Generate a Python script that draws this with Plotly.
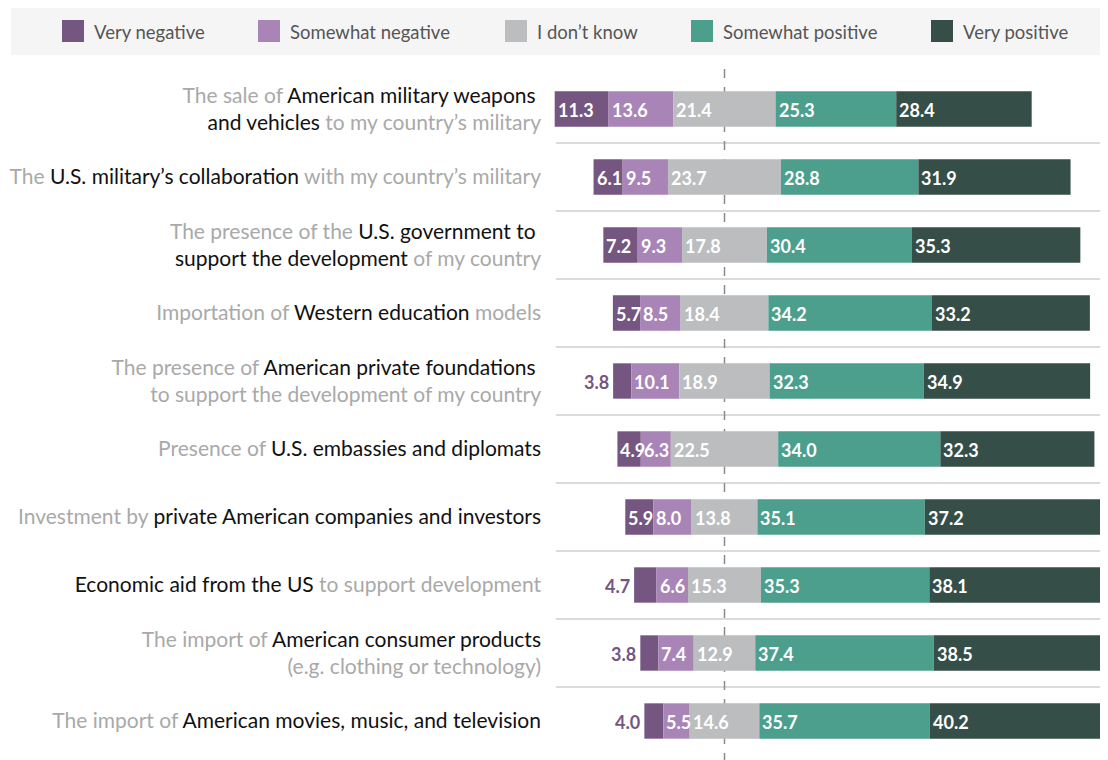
import plotly.graph_objects as go

# ---- data -------------------------------------------------------------
GRAY = "#a9a9a9"


def g(txt):
    return f"<span style='color:{GRAY}'>{txt}</span>"


items = [
    g("The sale of ") + "American military weapons&nbsp;<br>and vehicles" + g(" to my country’s military"),
    g("The ") + "U.S. military’s collaboration" + g(" with my country’s military"),
    g("The presence of the ") + "U.S. government to&nbsp;<br>support the development" + g(" of my country"),
    g("Importation of ") + "Western education" + g(" models"),
    g("The presence of ") + "American private foundations&nbsp;<br>" + g("to support the development of my country"),
    g("Presence of ") + "U.S. embassies and diplomats",
    g("Investment by ") + "private American companies and investors",
    "Economic aid from the US" + g(" to support development"),
    g("The import of ") + "American consumer products<br>" + g("(e.g. clothing or technology)"),
    g("The import of ") + "American movies, music, and television",
]

series_names = ["Very negative", "Somewhat negative", "I don’t know",
                "Somewhat positive", "Very positive"]
very_negative = [11.3, 6.1, 7.2, 5.7, 3.8, 4.9, 5.9, 4.7, 3.8, 4.0]
somewhat_negative = [13.6, 9.5, 9.3, 8.5, 10.1, 6.3, 8.0, 6.6, 7.4, 5.5]
dont_know = [21.4, 23.7, 17.8, 18.4, 18.9, 22.5, 13.8, 15.3, 12.9, 14.6]
somewhat_positive = [25.3, 28.8, 30.4, 34.2, 32.3, 34.0, 35.1, 35.3, 37.4, 35.7]
very_positive = [28.4, 31.9, 35.3, 33.2, 34.9, 32.3, 37.2, 38.1, 38.5, 40.2]

colors = ["#745681", "#a985b7", "#bcbdbf", "#4c9f8d", "#354e47"]

# ---- geometry (page pixels; the page body has an 8px margin) -----------
OFF = 8
W, H = 1108 - OFF, 760 - OFF
M_L, M_R, M_T, M_B = 553 - OFF, 0, 75 - OFF, 5
PX_PER_UNIT = 4.77
CENTER_PX = 724.5 - OFF


def paper_x(px):
    return (px - OFF - M_L) / (W - M_L - M_R)


def paper_y(py):
    return (H - M_B - (py - OFF)) / (H - M_T - M_B)


x_range = [-(CENTER_PX - M_L) / PX_PER_UNIT, (W - M_R - CENTER_PX) / PX_PER_UNIT]

all_series = [very_negative, somewhat_negative, dont_know, somewhat_positive, very_positive]

# bars are centred on the middle of the "I don't know" segment
start = [-(a + b + c / 2) for a, b, c in zip(very_negative, somewhat_negative, dont_know)]

fig = go.Figure()
base = list(start)
value_labels = []
for name, vals, col in zip(series_names, all_series, colors):
    fig.add_trace(go.Bar(
        y=items, x=vals, base=base, orientation="h", name=name,
        marker=dict(color=col, line=dict(width=0)),
        width=0.52, showlegend=False,
        hovertemplate=name + ": %{x:.1f}<extra></extra>",
    ))
    for i, v in enumerate(vals):
        if name == "Very negative" and v < 4.8:
            # too narrow: label sits left of the bar, in the series colour
            value_labels.append(dict(
                x=base[i], y=items[i], xref="x", yref="y", text=f"<b>{v:.1f}</b>",
                showarrow=False, xanchor="right", xshift=-2, yshift=-1,
                font=dict(family="Lato", size=18, color=colors[0])))
        else:
            value_labels.append(dict(
                x=base[i], y=items[i], xref="x", yref="y", text=f"<b>{v:.1f}</b>",
                showarrow=False, xanchor="left", xshift=1, yshift=-1,
                font=dict(family="Lato", size=18, color="white")))
    base = [b + v for b, v in zip(base, vals)]

annotations = list(value_labels)
shapes = []
# row separators
for i in range(len(items) - 1):
    shapes.append(dict(type="line", xref="paper", yref="y", x0=paper_x(556), x1=1,
                       y0=i + 0.5, y1=i + 0.5, line=dict(color="#cfcfcf", width=1.5),
                       layer="below"))
# centre dashed line
shapes.append(dict(type="line", xref="x", yref="paper", x0=0, x1=0,
                   y0=paper_y(762), y1=paper_y(62),
                   line=dict(color="#8a8a8a", width=1.5, dash="dash"), layer="below"))

# legend band
shapes.append(dict(type="rect", xref="paper", yref="paper",
                   x0=paper_x(11), x1=paper_x(1110), y0=paper_y(55), y1=paper_y(7),
                   fillcolor="#f5f5f5", line=dict(width=0), layer="below"))
legend_px = [62, 258, 505, 691, 931]
for name, col, lx in zip(series_names, colors, legend_px):
    shapes.append(dict(type="rect", xref="paper", yref="paper",
                       x0=paper_x(lx), x1=paper_x(lx + 22), y0=paper_y(42), y1=paper_y(20),
                       fillcolor=col, line=dict(width=0)))
    annotations.append(dict(x=paper_x(lx + 30), y=paper_y(32), xref="paper", yref="paper",
                            text=name, showarrow=False, xanchor="left", yanchor="middle",
                            font=dict(family="Lato", size=18.5, color="#555555")))

annotations.append(dict(x=paper_x(14), y=paper_y(753), xref="paper", yref="paper",
                        text="Source: ECFR", showarrow=False, xanchor="left", yanchor="top",
                        font=dict(family="Lato", size=16, color="#555555")))

fig.update_layout(
    width=W, height=H,
    margin=dict(l=M_L, r=M_R, t=M_T, b=M_B, pad=0),
    barmode="overlay",
    plot_bgcolor="white", paper_bgcolor="white",
    font=dict(family="Lato", size=21, color="#111111"),
    xaxis=dict(range=x_range, visible=False, fixedrange=True),
    yaxis=dict(autorange="reversed", showgrid=False, zeroline=False, showline=False,
               ticks="", ticklabelstandoff=11, tickfont=dict(family="Lato", size=21, color="#111111")),
    shapes=shapes,
    annotations=annotations,
)

fig.write_html("out.html")
